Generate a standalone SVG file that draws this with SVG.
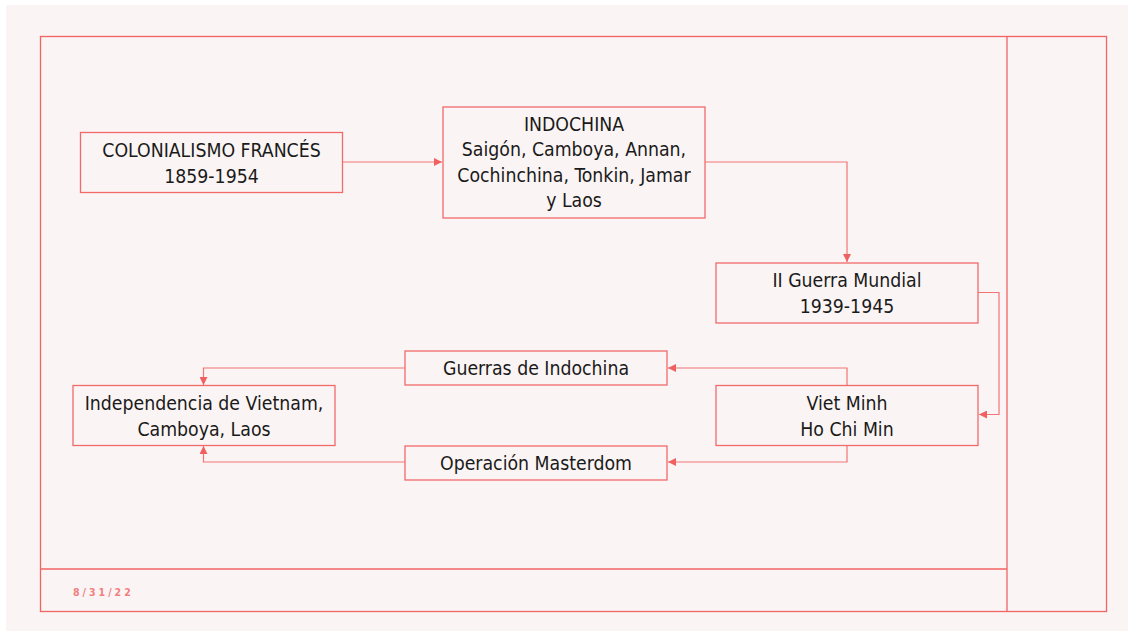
<svg xmlns="http://www.w3.org/2000/svg" width="1134" height="637" viewBox="0 0 1134 637">
<defs>
<style>
.bg{fill:#fbf4f4}
.frame{fill:none;stroke:#f26464;stroke-width:1.3}
.box{fill:#fbf4f4;stroke:#f06a6a;stroke-width:1.3}
.t{font-family:"DejaVu Sans Condensed","Liberation Sans",sans-serif;font-size:19.3px;fill:#1a1a1a;text-anchor:middle}
.c{fill:none;stroke:#f27474;stroke-width:1.2}
.date{font-family:"DejaVu Sans Condensed","Liberation Sans",sans-serif;font-size:10.5px;font-weight:bold;fill:#f08080;letter-spacing:3px}
</style>
<marker id="ah" viewBox="0 0 10 10" refX="10" refY="5" markerWidth="8" markerHeight="8" markerUnits="userSpaceOnUse" orient="auto">
<path d="M0,0 L10,5 L0,10 z" fill="#f06060"/>
</marker>
</defs>
<rect x="0" y="0" width="1134" height="637" fill="#ffffff"/>
<rect class="bg" x="6" y="5" width="1122" height="626"/>
<g id="frame">
<rect class="frame" x="40.5" y="36.5" width="1066" height="575"/>
<line class="frame" x1="1007" y1="36.5" x2="1007" y2="611.5"/>
<line class="frame" x1="40.5" y1="569" x2="1007" y2="569"/>
<text class="date" x="73" y="596">8/31/22</text>
</g>
<g id="connectors">
<path class="c" d="M343,162 H442" marker-end="url(#ah)"/>
<path class="c" d="M705,162 H847 V262" marker-end="url(#ah)"/>
<path class="c" d="M978,292.5 H999 V414.5 H979" marker-end="url(#ah)"/>
<path class="c" d="M847,385 V368 H668" marker-end="url(#ah)"/>
<path class="c" d="M405,368 H203.5 V385" marker-end="url(#ah)"/>
<path class="c" d="M847,446 V462 H668" marker-end="url(#ah)"/>
<path class="c" d="M405,462 H203.5 V446" marker-end="url(#ah)"/>
</g>
<g id="n-colonialismo">
<rect class="box" x="80.5" y="132.5" width="262" height="60"/>
<text class="t" x="211.5" y="157">COLONIALISMO FRANCÉS</text>
<text class="t" x="211.5" y="183">1859-1954</text>
</g>
<g id="n-indochina">
<rect class="box" x="443" y="107" width="262" height="111"/>
<text class="t" x="574" y="130.5">INDOCHINA</text>
<text class="t" x="574" y="156">Saigón, Camboya, Annan,</text>
<text class="t" x="574" y="181.5">Cochinchina, Tonkin, Jamar</text>
<text class="t" x="574" y="207">y Laos</text>
</g>
<g id="n-guerra-mundial">
<rect class="box" x="716" y="263" width="262" height="60"/>
<text class="t" x="847" y="287">II Guerra Mundial</text>
<text class="t" x="847" y="313">1939-1945</text>
</g>
<g id="n-viet-minh">
<rect class="box" x="716" y="385.5" width="262" height="60"/>
<text class="t" x="847" y="410">Viet Minh</text>
<text class="t" x="847" y="436">Ho Chi Min</text>
</g>
<g id="n-independencia">
<rect class="box" x="73" y="385.5" width="262" height="60"/>
<text class="t" x="204" y="410">Independencia de Vietnam,</text>
<text class="t" x="204" y="436">Camboya, Laos</text>
</g>
<g id="n-guerras-indochina">
<rect class="box" x="405" y="351" width="262" height="34"/>
<text class="t" x="536" y="375">Guerras de Indochina</text>
</g>
<g id="n-operacion">
<rect class="box" x="405" y="446" width="262" height="34"/>
<text class="t" x="536" y="469.5">Operación Masterdom</text>
</g>
</svg>
